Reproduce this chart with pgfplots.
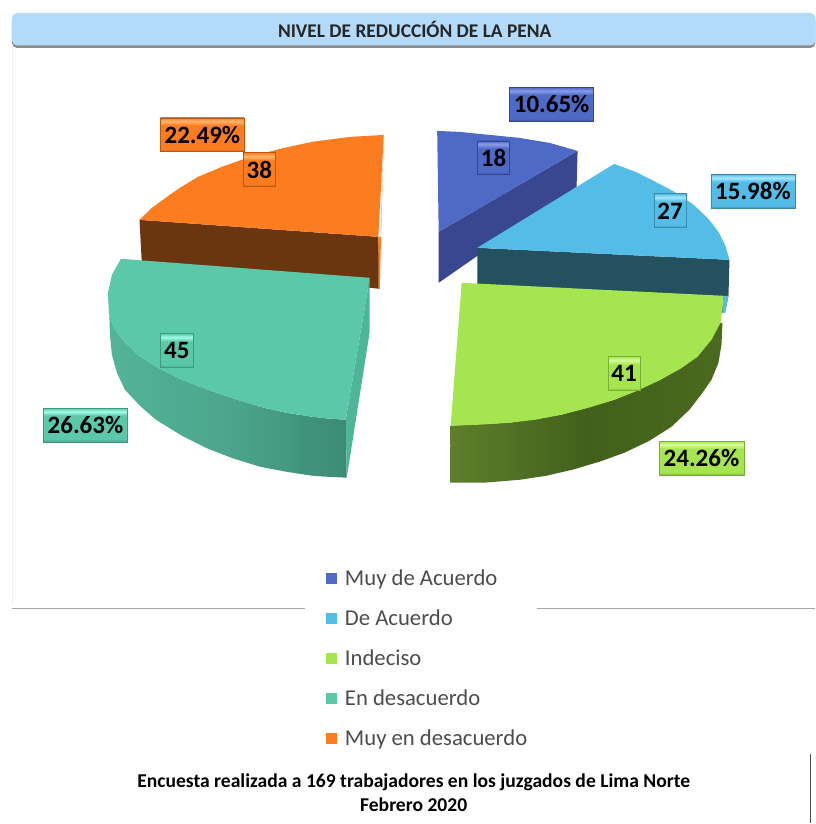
\documentclass[border=0pt]{standalone}
\usepackage{fontspec}
\setmainfont{Carlito}
\usepackage{pgfplots}
\pgfplotsset{compat=1.18}

\definecolor{cblue}{HTML}{4F69C6}
\definecolor{cblueside}{HTML}{38478F}
\definecolor{clblue}{HTML}{53BDE8}
\definecolor{clblueside}{HTML}{24505F}
\definecolor{cgreen}{HTML}{A5E650}
\definecolor{cteal}{HTML}{5AC8A9}
\definecolor{ctealedge}{HTML}{4DB598}
\definecolor{corange}{HTML}{FB7D20}
\definecolor{cbrown}{HTML}{6B3510}
\definecolor{ctitle}{HTML}{B3DAF8}
\definecolor{gs1}{HTML}{5E7F2C}
\definecolor{gs2}{HTML}{42601A}
\definecolor{gs3}{HTML}{4A6A1E}
\definecolor{ts1}{HTML}{52B498}
\definecolor{ts2}{HTML}{4CA58C}
\definecolor{ts3}{HTML}{40927A}
\definecolor{ts4}{HTML}{3C8C75}

\pgfdeclarehorizontalshading{greenside}{100bp}{color(0bp)=(gs1);color(25bp)=(gs1);color(50bp)=(gs2);color(75bp)=(gs3);color(100bp)=(gs3)}
\pgfdeclarehorizontalshading{tealside}{100bp}{color(0bp)=(ts1);color(25bp)=(ts1);color(50bp)=(ts2);color(68bp)=(ts3);color(75bp)=(ts4);color(100bp)=(ts4)}

% bevelled fill of the data labels
\newcommand{\labelshade}[4]{\pgfdeclareverticalshading{#1}{100bp}{color(0bp)=(#4);color(25bp)=(#4);color(29bp)=(#3);color(64bp)=(#3);color(70bp)=(#2);color(75bp)=(#3);color(100bp)=(#3)}}
\definecolor{lbl1}{HTML}{8A9CE8}\definecolor{bas1}{HTML}{4F69C6}\definecolor{drk1}{HTML}{33458C}
\definecolor{lbl2}{HTML}{A6E9FF}\definecolor{bas2}{HTML}{53BDE8}\definecolor{drk2}{HTML}{3A8CAD}
\definecolor{lbl3}{HTML}{D6FF9A}\definecolor{bas3}{HTML}{A5E650}\definecolor{drk3}{HTML}{7AAE38}
\definecolor{lbl4}{HTML}{A4FFE6}\definecolor{bas4}{HTML}{5AC8A9}\definecolor{drk4}{HTML}{3F9A80}
\definecolor{lbl5}{HTML}{FFB66E}\definecolor{bas5}{HTML}{FB7D20}\definecolor{drk5}{HTML}{B85A12}
\labelshade{box1}{lbl1}{bas1}{drk1}
\labelshade{box2}{lbl2}{bas2}{drk2}
\labelshade{box3}{lbl3}{bas3}{drk3}
\labelshade{box4}{lbl4}{bas4}{drk4}
\labelshade{box5}{lbl5}{bas5}{drk5}

\newcommand{\vallabel}[5]{\node[shade,shading=box#3,draw=drk#3,line width=0.8pt,minimum width=#4,minimum height=34pt,inner sep=0pt,font=\fontsize{25}{25}\bfseries\selectfont,text=black] at (axis cs:#1,#2) {#5};}

\begin{document}
\begin{tikzpicture}
\begin{axis}[
    scale only axis,
    width=816pt,
    height=824pt,
    xmin=0, xmax=816,
    ymin=0, ymax=824,
    y dir=reverse,
    hide axis,
    clip=false,
    legend style={
        at={(axis cs:322,564)},
        anchor=north west,
        draw=none,
        fill=none,
        font=\fontsize{22.7}{22.7}\selectfont,
        text=black!70,
        row sep=18.7pt,
        inner sep=4pt,
        /tikz/every odd column/.append style={column sep=6pt},
    },
    legend cell align=left,
    legend image code/.code={\fill[#1,draw=none] (0pt,-5.5pt) rectangle (11pt,5.5pt);},
]
\path (axis cs:0,0) rectangle (axis cs:816,824);
% orange slice
\addplot[fill=cbrown,draw=none,forget plot] coordinates {(139.6,220) (378.6,237) (380,289) (142,265)};
\addplot[fill=corange,draw=none,forget plot] coordinates {(378.6,237) (381,237) (384,135) (380,289) (378.6,289)};
\addplot[fill=corange,draw=none,forget plot] coordinates {(384,135) (350,137) (312,142) (280,149) (250,157) (222,167) (198,177) (180,188) (167,197) (152,208) (139.6,220) (378.6,237)};
% blue slice
\addplot[fill=cblueside,draw=none,forget plot] coordinates {(439,232) (578,151) (577,187) (439,283)};
\addplot[fill=cblue,draw=none,forget plot] coordinates {(437.5,131) (460,132) (480,134) (500,136) (520,138) (550,143) (578,151) (439,232)};
% light blue slice
\addplot[fill=clblueside,draw=none,forget plot] coordinates {(477.6,248) (730,260) (729,296) (725.5,313) (700,313) (477.6,290)};
\addplot[fill=clblue,draw=none,forget plot] coordinates {(724,296) (729,296) (725.5,313) (723,313)};
\addplot[fill=clblue,draw=none,forget plot] coordinates {(614.6,164) (636,172) (656,182) (675,192) (693,204) (708,218) (719,232) (726,246) (730,260) (477.6,248)};
% green slice
\addplot[shade,shading=greenside,draw=none,forget plot] coordinates {(451,426) (510,423) (562,415) (615,400) (661,380) (698,357) (721,323) (723,323) (722,345) (719,363) (712,380) (703,393) (690,410) (672,427) (650,441) (625,453) (600,462) (573,470) (547,476) (521,480) (485,483) (450.5,483)};
\addplot[fill=cgreen,draw=none,forget plot] coordinates {(462,283) (724,296) (723,310) (721,323) (712,340) (698,357) (681,369) (661,380) (638,391) (615,400) (589,408) (562,415) (536,420) (510,423) (480,425) (451,426)};
% teal slice
\addplot[shade,shading=tealside,draw=none,forget plot] coordinates {(109,300) (109,313) (114,328) (125,343) (139,356) (156,367) (182,380) (208,390) (234,399) (260,407) (286,413) (312,417) (330,419) (346,420) (347,478) (325,477) (312,476) (286,472) (260,467) (234,459) (208,449) (182,436) (156,420) (140,406) (125,390) (117,373) (112,355) (110,335)};
\addplot[fill=ctealedge,draw=none,forget plot] coordinates {(346,420) (370,278) (370,332) (347,478)};
\addplot[fill=cteal,draw=none,forget plot] coordinates {(121,259) (370,278) (346,420) (330,419) (312,417) (286,413) (260,407) (234,399) (208,390) (182,380) (156,367) (139,356) (125,343) (114,328) (109,313) (108,293) (112,275)};
% legend entries
\addlegendimage{fill=cblue}
\addlegendentry{Muy de Acuerdo}
\addlegendimage{fill=clblue}
\addlegendentry{De Acuerdo}
\addlegendimage{fill=cgreen}
\addlegendentry{Indeciso}
\addlegendimage{fill=cteal}
\addlegendentry{En desacuerdo}
\addlegendimage{fill=corange}
\addlegendentry{Muy en desacuerdo}

% title bar
\fill[black!45,rounded corners=5pt] (axis cs:12,16) rectangle (axis cs:816,48);
\fill[ctitle,rounded corners=5pt] (axis cs:12,13) rectangle (axis cs:816,45.5);
\node[font=\fontsize{19.4}{19.4}\bfseries\selectfont,text=black!85] at (axis cs:415,29.5) {NIVEL DE REDUCCIÓN DE LA PENA};

% frame rests
\draw[black!6,line width=0.8pt] (axis cs:12.5,46) -- (axis cs:12.5,606);
\draw[black!35,line width=1pt] (axis cs:12,608.5) -- (axis cs:305,608.5);
\draw[black!35,line width=1pt] (axis cs:537,608.5) -- (axis cs:816,608.5);
\draw[black!70,line width=1.2pt] (axis cs:811,755) -- (axis cs:811,824);

% data labels
\vallabel{552}{104.5}{1}{84pt}{10.65\%}
\vallabel{494}{158}{1}{32pt}{18}
\vallabel{753.5}{191.5}{2}{84pt}{15.98\%}
\vallabel{670.5}{211}{2}{32pt}{27}
\vallabel{702}{458.5}{3}{85pt}{24.26\%}
\vallabel{624.5}{374}{3}{32pt}{41}
\vallabel{85.5}{425.5}{4}{84pt}{26.63\%}
\vallabel{177}{351}{4}{33pt}{45}
\vallabel{202.5}{135}{5}{84pt}{22.49\%}
\vallabel{259.5}{170}{5}{32pt}{38}

% note under the chart
\node[align=center,font=\fontsize{19.6}{24}\bfseries\selectfont,text=black] at (axis cs:414,793) {Encuesta realizada a 169 trabajadores en los juzgados de Lima Norte\\Febrero 2020};
\end{axis}
\end{tikzpicture}
\end{document}
